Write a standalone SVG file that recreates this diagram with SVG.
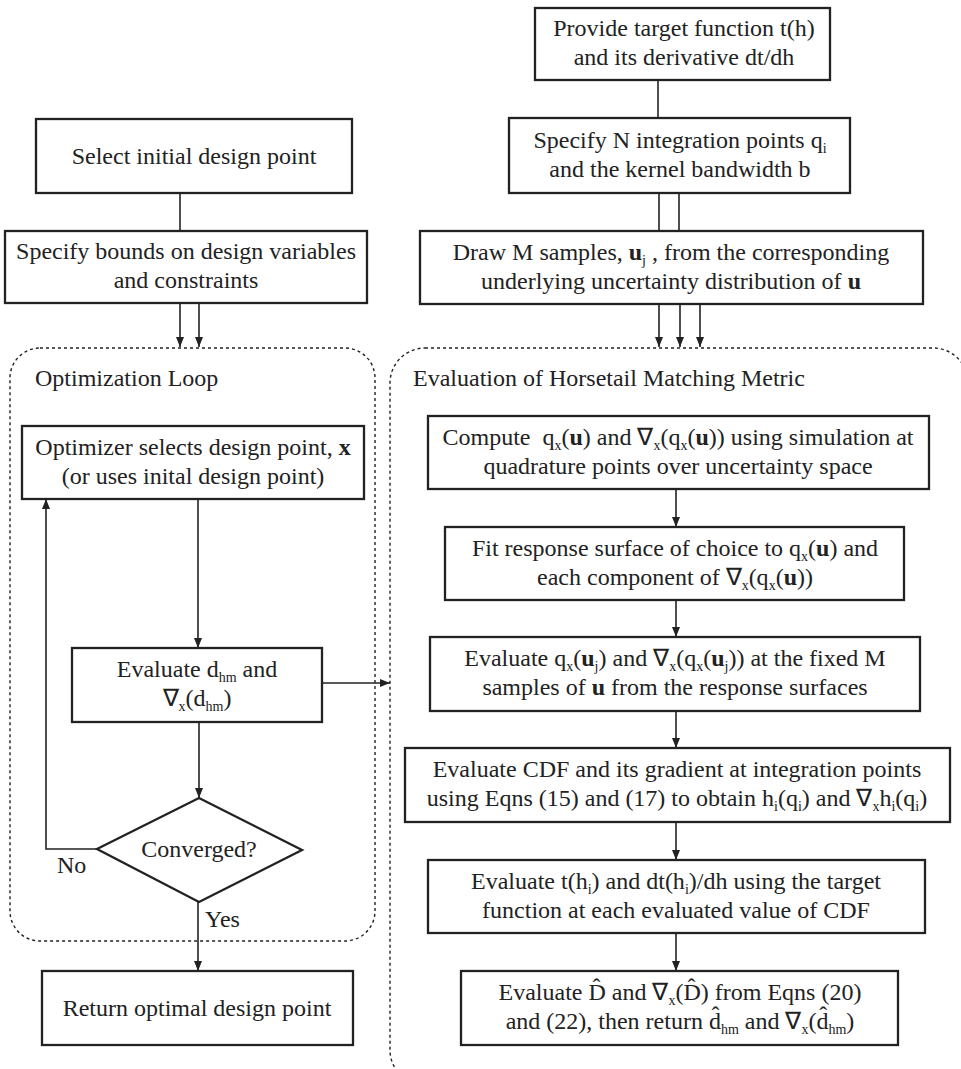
<svg xmlns="http://www.w3.org/2000/svg" width="961" height="1069" viewBox="0 0 961 1069">
<style>
text{font-family:"Liberation Serif","Times New Roman",serif;font-size:24px;fill:#222}
.c{text-anchor:middle}
.s{font-size:14px}
.b{font-weight:bold}
.box{fill:#fff;stroke:#222;stroke-width:2.3}
.cont{fill:none;stroke:#222;stroke-width:1.4;stroke-dasharray:3 3}
.ln{fill:none;stroke:#222;stroke-width:1.6}
.ar{fill:none;stroke:#222;stroke-width:1.6;marker-end:url(#ah)}
</style>
<defs>
<marker id="ah" markerUnits="userSpaceOnUse" markerWidth="10" markerHeight="8" refX="10" refY="4" orient="auto">
<path d="M0,0 L10,4 L0,8 z" fill="#222"/>
</marker>
</defs>

<g id="containers">
<rect id="opt-loop" class="cont" x="10" y="348" width="365" height="593" rx="30"/>
<text x="35" y="386">Optimization Loop</text>
<rect id="eval-metric" class="cont" x="390" y="348" width="578" height="737" rx="35"/>
<text x="413" y="386">Evaluation of Horsetail Matching Metric</text>
</g>

<g id="connectors">
<line class="ln" x1="658" y1="80" x2="658" y2="118"/>
<line class="ln" x1="659" y1="193" x2="659" y2="231"/>
<line class="ln" x1="679" y1="193" x2="679" y2="231"/>
<line class="ar" x1="659" y1="304" x2="659" y2="347"/>
<line class="ar" x1="680" y1="304" x2="680" y2="347"/>
<line class="ar" x1="700" y1="304" x2="700" y2="347"/>
<line class="ln" x1="180" y1="193" x2="180" y2="231"/>
<line class="ar" x1="180" y1="303" x2="180" y2="347"/>
<line class="ar" x1="199" y1="303" x2="199" y2="347"/>
<line class="ar" x1="198" y1="499" x2="198" y2="648"/>
<line class="ar" x1="322" y1="683" x2="390" y2="683"/>
<line class="ar" x1="199" y1="722" x2="199" y2="798"/>
<polyline class="ar" points="97,849 46,849 46,499"/>
<line class="ar" x1="198" y1="902" x2="198" y2="971"/>
<line class="ar" x1="676" y1="489" x2="676" y2="527"/>
<line class="ar" x1="676" y1="600" x2="676" y2="637"/>
<line class="ar" x1="676" y1="711" x2="676" y2="748"/>
<line class="ar" x1="676" y1="822" x2="676" y2="860"/>
<line class="ar" x1="676" y1="933" x2="676" y2="971"/>
<text x="57" y="873">No</text>
<text x="205" y="927">Yes</text>
</g>

<g id="provide-target">
<rect class="box" x="535" y="8" width="295" height="72"/>
<text class="c" x="684" y="36">Provide target function t(h)</text>
<text class="c" x="684" y="65">and its derivative dt/dh</text>
</g>

<g id="specify-n">
<rect class="box" x="509" y="118" width="341" height="75"/>
<text class="c" x="680" y="148">Specify N integration points q<tspan class="s" dy="5">i</tspan></text>
<text class="c" x="680" y="177">and the kernel bandwidth b</text>
</g>

<g id="draw-samples">
<rect class="box" x="420" y="231" width="503" height="73"/>
<text class="c" x="671" y="260">Draw M samples, <tspan class="b">u</tspan><tspan class="s" dy="5">j</tspan><tspan dy="-5"> , from the corresponding</tspan></text>
<text class="c" x="671" y="289">underlying uncertainty distribution of <tspan class="b">u</tspan></text>
</g>

<g id="select-initial">
<rect class="box" x="36" y="119" width="316" height="74"/>
<text class="c" x="194" y="164">Select initial design point</text>
</g>

<g id="specify-bounds">
<rect class="box" x="5" y="231" width="362" height="72"/>
<text class="c" x="186" y="259">Specify bounds on design variables</text>
<text class="c" x="186" y="288">and constraints</text>
</g>

<g id="optimizer-selects">
<rect class="box" x="22" y="426" width="342" height="73"/>
<text class="c" x="193" y="455">Optimizer selects design point, <tspan class="b">x</tspan></text>
<text class="c" x="193" y="484">(or uses inital design point)</text>
</g>

<g id="evaluate-dhm">
<rect class="box" x="72" y="648" width="250" height="74"/>
<text class="c" x="197" y="677">Evaluate d<tspan class="s" dy="5">hm</tspan><tspan dy="-5"> and</tspan></text>
<text class="c" x="197" y="706">∇<tspan class="s" dy="5">x</tspan><tspan dy="-5">(d</tspan><tspan class="s" dy="5">hm</tspan><tspan dy="-5">)</tspan></text>
</g>

<g id="converged">
<polygon class="box" points="199,798 302,850 199,902 97,849"/>
<text class="c" x="199" y="857">Converged?</text>
</g>

<g id="return-optimal">
<rect class="box" x="42" y="971" width="311" height="74"/>
<text class="c" x="197" y="1016">Return optimal design point</text>
</g>

<g id="compute">
<rect class="box" x="428" y="416" width="501" height="73"/>
<text class="c" x="678" y="445">Compute <tspan dx="6">q</tspan><tspan class="s" dy="5">x</tspan><tspan dy="-5">(</tspan><tspan class="b">u</tspan>) and ∇<tspan class="s" dy="5">x</tspan><tspan dy="-5">(q</tspan><tspan class="s" dy="5">x</tspan><tspan dy="-5">(</tspan><tspan class="b">u</tspan>)) using simulation at</text>
<text class="c" x="678" y="474">quadrature points over uncertainty space</text>
</g>

<g id="fit-surface">
<rect class="box" x="445" y="527" width="459" height="73"/>
<text class="c" x="675" y="556">Fit response surface of choice to q<tspan class="s" dy="5">x</tspan><tspan dy="-5">(</tspan><tspan class="b">u</tspan>) and</text>
<text class="c" x="675" y="585">each component of ∇<tspan class="s" dy="5">x</tspan><tspan dy="-5">(q</tspan><tspan class="s" dy="5">x</tspan><tspan dy="-5">(</tspan><tspan class="b">u</tspan>))</text>
</g>

<g id="evaluate-q">
<rect class="box" x="430" y="637" width="490" height="74"/>
<text class="c" x="675" y="666">Evaluate q<tspan class="s" dy="5">x</tspan><tspan dy="-5">(</tspan><tspan class="b">u</tspan><tspan class="s" dy="5">j</tspan><tspan dy="-5">) and ∇</tspan><tspan class="s" dy="5">x</tspan><tspan dy="-5">(q</tspan><tspan class="s" dy="5">x</tspan><tspan dy="-5">(</tspan><tspan class="b">u</tspan><tspan class="s" dy="5">j</tspan><tspan dy="-5">)) at the fixed M</tspan></text>
<text class="c" x="675" y="695">samples of <tspan class="b">u</tspan> from the response surfaces</text>
</g>

<g id="evaluate-cdf">
<rect class="box" x="405" y="748" width="545" height="74"/>
<text class="c" x="677" y="777">Evaluate CDF and its gradient at integration points</text>
<text class="c" x="677" y="806">using Eqns (15) and (17) to obtain h<tspan class="s" dy="5">i</tspan><tspan dy="-5">(q</tspan><tspan class="s" dy="5">i</tspan><tspan dy="-5">) and ∇</tspan><tspan class="s" dy="5">x</tspan><tspan dy="-5">h</tspan><tspan class="s" dy="5">i</tspan><tspan dy="-5">(q</tspan><tspan class="s" dy="5">i</tspan><tspan dy="-5">)</tspan></text>
</g>

<g id="evaluate-t">
<rect class="box" x="428" y="860" width="497" height="73"/>
<text class="c" x="676" y="889">Evaluate t(h<tspan class="s" dy="5">i</tspan><tspan dy="-5">) and dt(h</tspan><tspan class="s" dy="5">i</tspan><tspan dy="-5">)/dh using the target</tspan></text>
<text class="c" x="676" y="918">function at each evaluated value of CDF</text>
</g>

<g id="evaluate-d">
<rect class="box" x="461" y="971" width="437" height="74"/>
<text class="c" x="680" y="1000">Evaluate D̂ and ∇<tspan class="s" dy="5">x</tspan><tspan dy="-5">(D̂) from Eqns (20)</tspan></text>
<text class="c" x="680" y="1029">and (22), then return d̂<tspan class="s" dy="5">hm</tspan><tspan dy="-5"> and ∇</tspan><tspan class="s" dy="5">x</tspan><tspan dy="-5">(d̂</tspan><tspan class="s" dy="5">hm</tspan><tspan dy="-5">)</tspan></text>
</g>
</svg>
